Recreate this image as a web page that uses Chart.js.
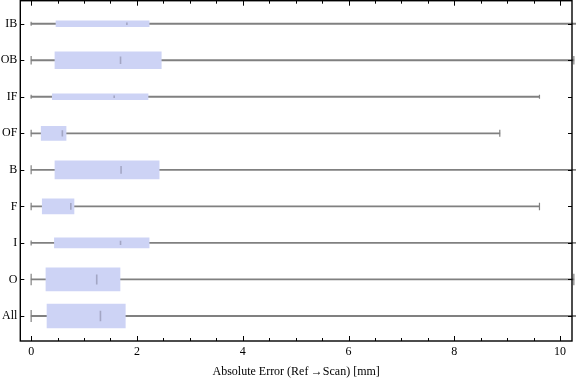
<!DOCTYPE html>
<html><head><meta charset="utf-8">
<script src="https://cdn.jsdelivr.net/npm/chart.js@4"></script>
<style>html,body{margin:0;padding:0;background:#fff}canvas{display:block}</style>
</head><body>
<canvas id="c" width="576" height="381"></canvas>
<script>
// ---- data ----
const categories = ['IB','OB','IF','OF','B','F','I','O','All'];
const minValues = [0,0,0,0,0,0,0,0,0];
const q1Values = [0.47,0.45,0.40,0.19,0.45,0.21,0.44,0.28,0.30];
const medianValues = [1.81,1.69,1.57,0.59,1.70,0.75,1.69,1.24,1.31];
const q3Values = [2.23,2.46,2.21,0.66,2.42,0.81,2.23,1.68,1.78];
const maxValues = [10.5,10.26,9.61,8.86,10.5,9.61,10.5,10.26,10.5];
const xTickLabels = [0,2,4,6,8,10];
const xMinorStep = 0.5;
const xAxisTitle = 'Absolute Error (Ref\u2009\u2192Scan) [mm]';

// ---- style ----
const boxWidthsPx = [6,17,6,14,18,15,10,23,24];
const boxColor = '#CDD3F5';
const whiskerColor = '#808080';
const font = {family: "'Liberation Serif', 'Times New Roman', serif", size: 12};
const overflowClip = {left: 0, top: 0, right: 6, bottom: 0};

const whiskerData = categories.map((c, i) => ({y: i, x: [minValues[i], maxValues[i]]}));
const capData = categories.flatMap((c, i) => [{y: i, x: minValues[i]}, {y: i, x: maxValues[i]}]);
const medianData = categories.map((c, i) => ({y: i, x: medianValues[i]}));

const boxDatasets = categories.map((c, i) => ({
  type: 'bar',
  label: c,
  data: [{y: i, x: [q1Values[i], q3Values[i]]}],
  barThickness: boxWidthsPx[i],
  backgroundColor: boxColor,
  borderWidth: 0,
  grouped: false,
  order: 3
}));

const framePlugin = {
  id: 'frame',
  afterDraw(chart) {
    const {ctx, chartArea: a, scales: {x, y}} = chart;
    ctx.save();
    ctx.strokeStyle = '#000';
    ctx.lineWidth = 1;
    ctx.beginPath();
    x.ticks.forEach(t => {
      const px = Math.round(x.getPixelForValue(t.value)) + 0.5;
      const major = xTickLabels.includes(t.value);
      const len = major ? 5 : 3;
      ctx.moveTo(px, a.bottom); ctx.lineTo(px, a.bottom - len);
      ctx.moveTo(px, a.top); ctx.lineTo(px, a.top + len);
    });
    y.ticks.forEach(t => {
      const py = Math.round(y.getPixelForValue(t.value)) + 0.5;
      ctx.moveTo(a.left, py); ctx.lineTo(a.left + 4, py);
      ctx.moveTo(a.right, py); ctx.lineTo(a.right - 4, py);
    });
    ctx.stroke();
    ctx.lineWidth = 1.4;
    ctx.strokeRect(a.left, a.top, a.right - a.left, a.bottom - a.top);
    ctx.restore();
  }
};

new Chart(document.getElementById('c'), {
  type: 'bar',
  data: {
    datasets: [
      {
        type: 'bar',
        label: 'whiskers',
        data: whiskerData,
        barThickness: 1.2,
        backgroundColor: whiskerColor,
        borderWidth: 0,
        grouped: false,
        clip: overflowClip,
        order: 4
      },
      ...boxDatasets,
      {
        type: 'scatter',
        label: 'caps',
        data: capData,
        pointStyle: 'line',
        rotation: 90,
        radius: ctx => Math.max(2, boxWidthsPx[Math.floor(ctx.dataIndex / 2)] * 0.25),
        borderColor: whiskerColor,
        borderWidth: 1.2,
        clip: overflowClip,
        order: 2
      },
      {
        type: 'scatter',
        label: 'medians',
        data: medianData,
        pointStyle: 'line',
        rotation: 90,
        radius: ctx => Math.max(1.2, boxWidthsPx[ctx.dataIndex] * 0.22),
        borderColor: 'rgba(130,130,155,0.55)',
        borderWidth: 1.6,
        order: 1
      }
    ]
  },
  options: {
    indexAxis: 'y',
    responsive: false,
    animation: false,
    devicePixelRatio: 1,
    events: [],
    layout: {autoPadding: false, padding: {left: 0.3, right: 4, top: 0.7, bottom: 0}},
    plugins: {legend: {display: false}, tooltip: {enabled: false}},
    scales: {
      x: {
        type: 'linear',
        position: 'bottom',
        offset: false,
        min: -0.205,
        max: 10.225,
        grid: {display: false, drawTicks: false},
        border: {display: false},
        afterBuildTicks: s => {
          const t = [];
          for (let k = 0; k * xMinorStep <= xTickLabels[xTickLabels.length - 1] + 1e-9; k++) t.push({value: k * xMinorStep});
          s.ticks = t;
        },
        ticks: {
          autoSkip: false,
          maxRotation: 0,
          padding: 4,
          color: '#000',
          font: font,
          callback: v => xTickLabels.includes(v) ? String(v) : ''
        },
        title: {display: true, text: xAxisTitle, color: '#000', font: font, padding: {top: 0, bottom: 2}},
        afterFit: s => { s.height = 40; s.paddingLeft = 0; s.paddingRight = 0; }
      },
      y: {
        type: 'linear',
        position: 'left',
        reverse: true,
        offset: false,
        min: -0.63,
        max: 8.685,
        grid: {display: false, drawTicks: false},
        border: {display: false},
        afterBuildTicks: s => { s.ticks = categories.map((c, i) => ({value: i})); },
        ticks: {
          autoSkip: false,
          padding: 3,
          color: '#000',
          font: font,
          callback: v => categories[v]
        },
        afterFit: s => { s.width = 20; s.paddingTop = 0; s.paddingBottom = 0; }
      }
    }
  },
  plugins: [framePlugin]
});
</script>
</body></html>
